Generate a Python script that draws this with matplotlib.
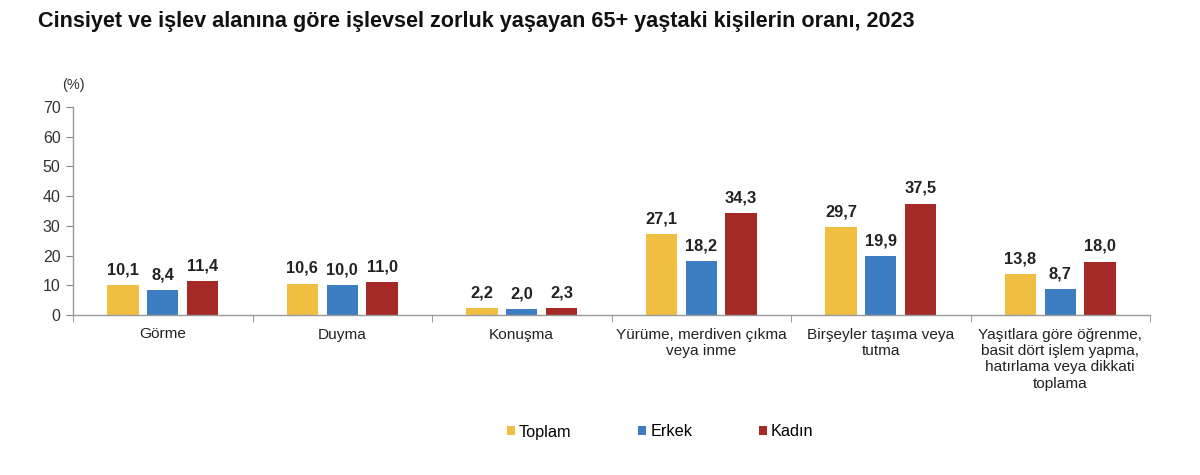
import matplotlib
matplotlib.use("Agg")
import matplotlib.pyplot as plt
import numpy as np

plt.rcParams['font.family'] = ['Liberation Sans', 'DejaVu Sans']

categories = ["Görme", "Duyma", "Konuşma", "Yürüme, merdiven çıkma\nveya inme",
              "Birşeyler taşıma veya\ntutma",
              "Yaşıtlara göre öğrenme,\nbasit dört işlem yapma,\nhatırlama veya dikkati\ntoplama"]
series_names = ["Toplam", "Erkek", "Kadın"]
toplam = [10.1, 10.6, 2.2, 27.1, 29.7, 13.8]
erkek = [8.4, 10.0, 2.0, 18.2, 19.9, 8.7]
kadin = [11.4, 11.0, 2.3, 34.3, 37.5, 18.0]
colors = ["#F0BE41", "#3C7EC1", "#A52A27"]
yticks = [0, 10, 20, 30, 40, 50, 60, 70]

fig = plt.figure(figsize=(12, 4.75), dpi=100)
ax = fig.add_axes([73/1200, 1-315/475, (1150-73)/1200, (315-107)/475])

x = np.arange(len(categories))
w = 0.175
off = 0.222
for i, (vals, c, name) in enumerate(zip([toplam, erkek, kadin], colors, series_names)):
    pos = x + (i-1)*off
    ax.bar(pos, vals, width=w, color=c, label=name)
    for p, v in zip(pos, vals):
        ax.text(p, v + 2.6, f"{v:.1f}".replace('.', ','), ha='center', va='bottom',
                fontsize=11.8, fontweight='bold', color='#222222')

ax.set_xlim(-0.5, len(categories)-0.5)
ax.set_ylim(0, 70)
ax.set_yticks(yticks)
ax.set_yticklabels([str(t) for t in yticks], fontsize=11.5, color='#333333')
ax.set_xticks(x)
ax.set_xticklabels(categories, fontsize=11.1, color='#222222', linespacing=1.22)
ax.set_xticks(np.arange(-0.5, len(categories), 1.0), minor=True)
ax.tick_params(axis='x', which='major', length=0, pad=9)
ax.tick_params(axis='x', which='minor', length=5, direction='out', color='#888888')
ax.tick_params(axis='y', length=5, direction='out', color='#888888', pad=4)
for s in ['top', 'right']:
    ax.spines[s].set_visible(False)
for s in ['left', 'bottom']:
    ax.spines[s].set_color('#999999')
    ax.spines[s].set_linewidth(1.0)

ax.text(-0.5, 75, "(%)", transform=ax.transData, ha='center', va='bottom', fontsize=10.5, color='#333333')
ax.set_ylim(0, 70)

fig.text(38/1200, 1-22/475, "Cinsiyet ve işlev alanına göre işlevsel zorluk yaşayan 65+ yaştaki kişilerin oranı, 2023",
         fontsize=15.6, fontweight='bold', ha='left', va='center', color='#111111')

leg = fig.legend(loc='center', bbox_to_anchor=(660/1200, 1-432/475), ncol=3, frameon=False,
                 fontsize=11.7, handlelength=0.5, handleheight=0.5, handletextpad=0.25,
                 columnspacing=4.1)

fig.savefig("out.png", dpi=100)
